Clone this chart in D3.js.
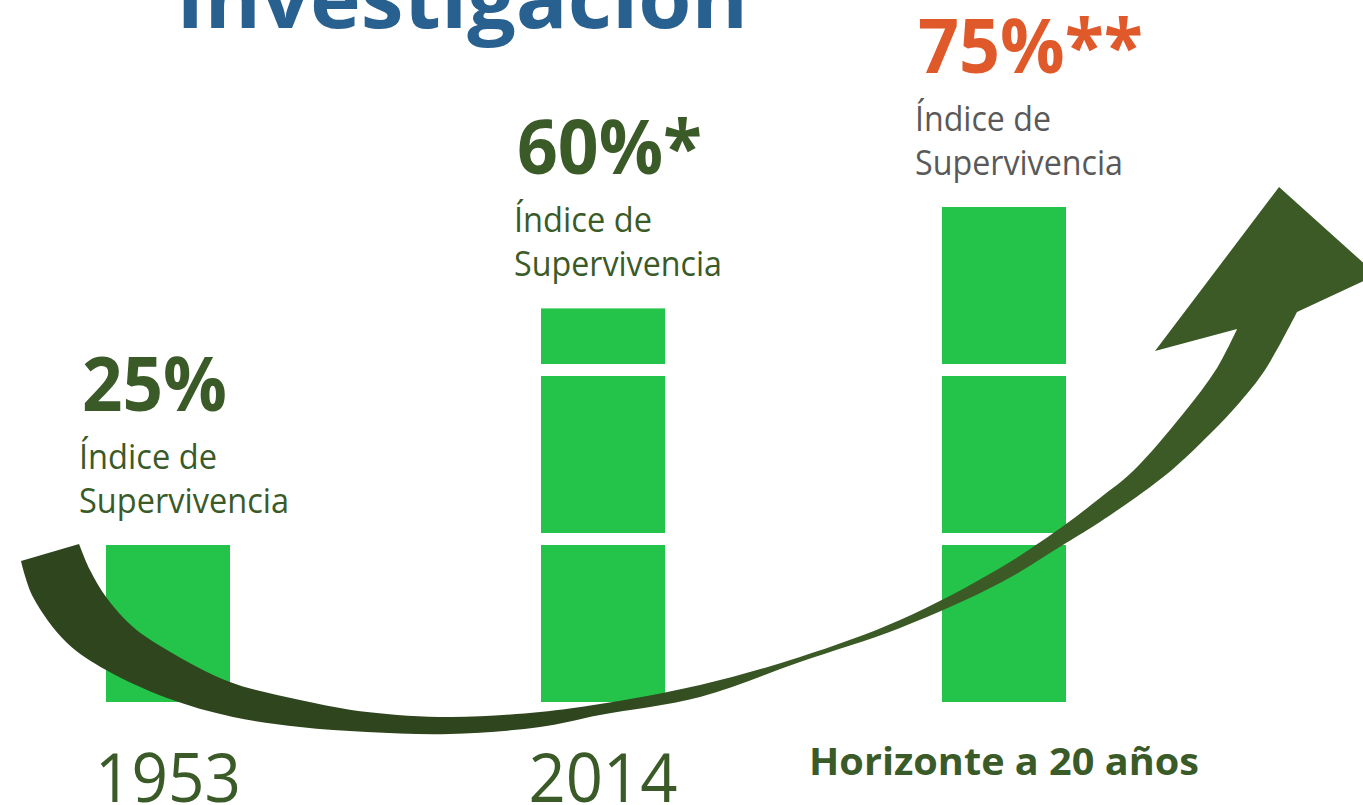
<!DOCTYPE html>
<html>
<head>
<meta charset="utf-8">
<script src="https://cdn.jsdelivr.net/npm/d3@7"></script>
<style>
  html, body { margin: 0; padding: 0; background: #ffffff; }
  svg { display: block; }
</style>
</head>
<body>
<script>
// ---------- data ----------
const title = "Investigación";
const categories = ["1953", "2014", "Horizonte a 20 años"];
const segments1953 = [25];
const segments2014 = [25, 25, 10];
const segmentsHorizon = [25, 25, 25];
const totalLabels = ["25%", "60%*", "75%**"];
const subLabels = ["Índice de", "Supervivencia"];
// decorative arrow, in (percent of width, survival %) units
const arrowLowerX = [1.54, 2.42, 4.92, 7.78, 12.25, 17.09, 22.01, 26.93, 33.01, 39.62, 44.02, 51.36, 58.69, 66.03, 73.37, 78.21, 80.70, 85.62, 88.77, 90.98, 92.81, 95.16];
const arrowLowerY = [20.86, 15.53, 8.73, 4.73, 0.59, -2.22, -3.70, -4.44, -4.73, -3.70, -1.92, 0.74, 5.92, 10.95, 17.60, 23.52, 26.63, 33.73, 39.64, 44.38, 49.11, 57.69];
const arrowUpperX = [5.80, 6.60, 7.78, 9.76, 12.25, 16.87, 22.01, 26.93, 33.01, 39.62, 44.02, 51.36, 58.69, 66.03, 73.37, 78.21, 80.70, 83.13, 86.79, 89.29, 90.76];
const arrowUpperY = [23.37, 19.53, 15.53, 11.09, 7.69, 2.96, 0.30, -1.48, -2.22, -1.48, -0.30, 2.51, 6.66, 12.13, 19.82, 26.33, 30.18, 34.17, 42.60, 49.41, 55.18];
const arrowHeadX = [101.0, 93.84, 84.74];
const arrowHeadY = [63.2, 76.18, 51.92];

const segmentsByCategory = [segments1953, segments2014, segmentsHorizon];

// ---------- layout ----------
const W = 1363, H = 805;
const barWidth = 124, gap = 12;
const green = "#3a5a27", barGreen = "#24c34a", orange = "#e0592a", grey = "#595959", blue = "#28618f";
const font = "'Open Sans', 'DejaVu Sans', sans-serif";

const svg = d3.select("body").append("svg").attr("width", W).attr("height", H);

const x = d3.scaleOrdinal().domain(categories).range([168, 603, 1004]);
const y = d3.scaleLinear().domain([0, 100]).range([702, 26]);
const xA = d3.scaleLinear().domain([0, 100]).range([0, W]);

// title (cut off at top like the reference)
svg.append("text")
  .attr("x", 176).attr("y", 28)
  .attr("font-family", font).attr("font-weight", 700).attr("font-size", 82)
  .attr("fill", blue)
  .attr("textLength", 572).attr("lengthAdjust", "spacingAndGlyphs")
  .text(title);

// bars (stacked segments)
const segData = [];
segmentsByCategory.forEach((segs, i) => {
  let s = 0;
  segs.forEach(v => { segData.push({ cat: categories[i], s: s, e: s + v }); s += v; });
});
svg.append("g").selectAll("rect").data(segData).join("rect")
  .attr("x", d => x(d.cat) - barWidth / 2)
  .attr("y", d => y(d.e) + gap)
  .attr("width", barWidth)
  .attr("height", d => y(d.s) - y(d.e) - gap)
  .attr("fill", barGreen);

// arrow
const defs = svg.append("defs");
const grad = defs.append("linearGradient").attr("id", "arrowGrad")
  .attr("gradientUnits", "userSpaceOnUse")
  .attr("x1", xA(0)).attr("y1", 0).attr("x2", xA(100)).attr("y2", 0);
grad.append("stop").attr("offset", "0").attr("stop-color", "#2f451e");
grad.append("stop").attr("offset", "0.42").attr("stop-color", "#2f451e");
grad.append("stop").attr("offset", "0.6").attr("stop-color", "#3b5a26");
grad.append("stop").attr("offset", "1").attr("stop-color", "#3b5a26");

const edge = d3.line().x(d => xA(d[0])).y(d => y(d[1])).curve(d3.curveCatmullRom.alpha(0.5));
const lower = arrowLowerX.map((v, i) => [v, arrowLowerY[i]]);
const upper = arrowUpperX.map((v, i) => [v, arrowUpperY[i]]).reverse();
const head = arrowHeadX.map((v, i) => [v, arrowHeadY[i]]);
let dPath = edge(lower);
head.forEach(p => { dPath += "L" + xA(p[0]) + "," + y(p[1]); });
dPath += edge(upper).replace(/^M/, "L") + "Z";
svg.append("path").attr("d", dPath).attr("fill", "url(#arrowGrad)");

// value labels
const labelColors = [green, green, orange];
const subColors = [green, green, grey];
const labelWidths = [145, 185, 225];
const subWidths = [[138, 210], [138, 208], [136, 208]];
const totals = segmentsByCategory.map(a => d3.sum(a));
const lg = svg.append("g");
categories.forEach((c, i) => {
  const bx = x(c) - 86;
  const by = y(totals[i]) - 122;
  lg.append("text")
    .attr("x", bx).attr("y", by)
    .attr("font-family", font).attr("font-weight", 700).attr("font-size", 76)
    .attr("fill", labelColors[i])
    .attr("textLength", labelWidths[i]).attr("lengthAdjust", "spacingAndGlyphs")
    .text(totalLabels[i]);
  subLabels.forEach((t, j) => {
    lg.append("text")
      .attr("x", bx - 3).attr("y", by + 58 + j * 44)
      .attr("font-family", font).attr("font-weight", 400).attr("font-size", 34)
      .attr("fill", subColors[i])
      .attr("textLength", subWidths[i][j]).attr("lengthAdjust", "spacingAndGlyphs")
      .text(t);
  });
});

// category labels
const catWidths = [146, 149, 390];
svg.append("g").selectAll("text").data(categories).join("text")
  .attr("x", d => x(d))
  .attr("y", (d, i) => i === 2 ? 775 : 802)
  .attr("text-anchor", "middle")
  .attr("font-family", font)
  .attr("font-weight", (d, i) => i === 2 ? 700 : 400)
  .attr("font-size", (d, i) => i === 2 ? 38 : 68)
  .attr("fill", green)
  .attr("textLength", (d, i) => catWidths[i]).attr("lengthAdjust", "spacingAndGlyphs")
  .text(d => d);
</script>
</body>
</html>
